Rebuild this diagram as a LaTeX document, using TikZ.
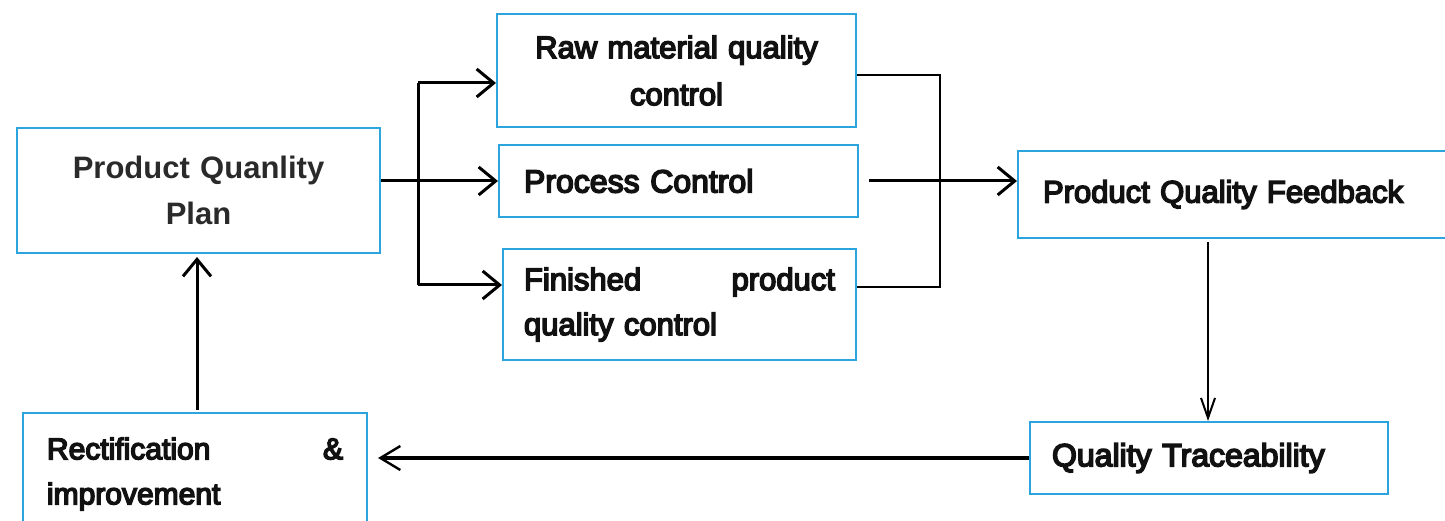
\documentclass[tikz,border=0pt]{standalone}
\usepackage{fontspec}
\setmainfont{Liberation Sans}
\newfontfamily\heavy{Liberation Sans}[FakeBold=5]
\usetikzlibrary{arrows.meta,calc}
\definecolor{boxblue}{HTML}{2CA5DE}
\definecolor{txtgray}{HTML}{2A2A2A}
\definecolor{txtblack}{HTML}{111111}
\begin{document}
\begin{tikzpicture}[x=1pt,y=-1pt,
  box/.style={draw=boxblue, line width=2pt, inner sep=0pt, rectangle, text=txtblack},
  ln/.style={line width=3pt, black},
  arr/.style={ln, -{Straight Barb[length=17pt,width=28pt,line width=3pt]}},
  thinarr/.style={line width=2.2pt, black, -{Straight Barb[length=20pt,width=14pt,line width=2pt]}},
  backarr/.style={line width=3.4pt, black, -{Straight Barb[length=20pt,width=24pt,line width=2.4pt]}},
]
\useasboundingbox (0,0) rectangle (1445,521);
\clip (0,0) rectangle (1445,521);

\node[box, minimum width=363pt, minimum height=125pt, text width=363pt, align=center,
      text=txtgray, font=\fontsize{31}{46}\selectfont\bfseries] (pqp) at (198.5,190.5) {Product Quanlity\\Plan};
\node[box, minimum width=359pt, minimum height=113pt, text width=359pt, align=center,
      font=\fontsize{31}{47}\selectfont\heavy] (raw) at (676.5,70.5) {Raw material quality\\control};
\node[box, minimum width=359pt, minimum height=72pt, text width=309pt, align=left,
      font=\fontsize{32}{46}\selectfont\heavy] (proc) at (678.5,181) {Process Control};
\node[box, minimum width=353pt, minimum height=111pt, text width=311pt, align=left,
      font=\fontsize{31}{45}\selectfont\heavy] (fin) at (679.5,304.5) {Finished\hfill product\\quality control};
\node[box, minimum width=428pt, minimum height=87pt, text width=378pt, align=left,
      font=\fontsize{31}{46}\selectfont\heavy] (fb) at (1232,194.5) {Product Quality Feedback};
\node[box, minimum width=358pt, minimum height=72pt, text width=314pt, align=left,
      font=\fontsize{32}{46}\selectfont\heavy] (tr) at (1209,458) {Quality Traceability};
\node[box, minimum width=344pt, minimum height=123pt, text width=296pt, align=left,
      font=\fontsize{30}{45}\selectfont\heavy] (rect) at (195,474) {Rectification\hfill\&\\improvement};

\coordinate (jl1) at (418,83);
\coordinate (jl2) at (418,285);
\coordinate (jr1) at (940,75);
\coordinate (jr2) at (940,287);
\coordinate (cd) at (1208,0);
\coordinate (cu) at (197,0);

% left fan-out
\draw[arr] (pqp.east |- proc.west) -- (proc.west);
\draw[ln] (jl1) -- (jl2);
\draw[arr] (jl1) -- (jl1 -| raw.west);
\draw[arr] (jl2) -- (jl2 -| fin.west);

% right fan-in
\draw[line width=2.5pt] (raw.east |- jr1) -- (jr1) -- (jr2) -- (jr2 -| fin.east);
\draw[arr] ([xshift=10pt]proc.east) -- (proc.east -| fb.west);

% loop back
\draw[thinarr] ([yshift=-3pt]fb.south -| cd) -- (tr.north -| cd);
\draw[backarr] (tr.west) -- ([xshift=10pt]tr.west -| rect.east);
\draw[arr] ([yshift=2pt]rect.north -| cu) -- ([yshift=-3pt]pqp.south -| cu);
\end{tikzpicture}
\end{document}
